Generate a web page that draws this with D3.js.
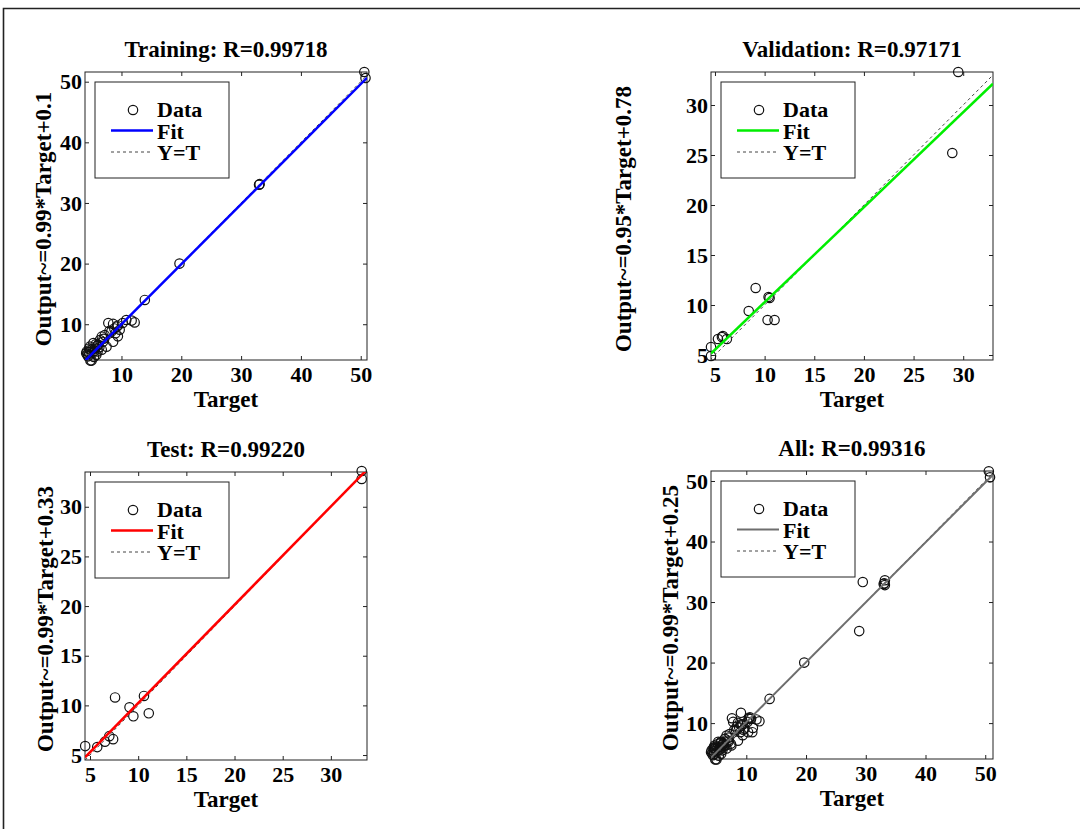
<!DOCTYPE html>
<html>
<head>
<meta charset="utf-8">
<script src="https://cdnjs.cloudflare.com/ajax/libs/d3/7.8.5/d3.min.js"></script>
<style>
body { margin: 0; background: #fff; }
text { font-family: "Liberation Serif", "Times New Roman", serif; font-weight: bold; fill: #000; }
</style>
</head>
<body>
<div id="chart"></div>
<script>
// values
const trainTarget = [50.6, 50.8, 33.0, 33.1, 19.7, 13.9, 11.7, 12.2, 10.8, 7.8, 8.6, 9.2, 9.7, 8.3, 8.6, 9.4, 7.2, 6.4, 6.1, 5.3,
    4.7, 5.55, 6.7, 4.2, 5.0, 4.1, 5.8, 4.4, 5.0, 7.5, 6.9, 9.0, 8.0, 5.5, 6.3, 4.8, 10.2, 9.4, 6.7, 4.8,
    4.3, 4.5, 5.2, 5.9, 6.0, 5.4, 7.0, 8.8, 4.6, 5.7]
const trainOutput = [51.6, 50.6, 33.0, 33.1, 20.0, 14.0, 10.6, 10.3, 10.7, 10.2, 10.05, 9.6, 9.1, 8.8, 7.1, 8.0, 8.2, 7.4, 6.6, 6.9,
    6.3, 6.0, 5.8, 5.5, 5.2, 5.2, 4.95, 4.7, 4.0, 6.3, 7.1, 8.5, 8.9, 5.6, 6.2, 5.8, 10.2, 9.8, 7.95, 4.0,
    5.0, 5.4, 5.9, 6.4, 5.5, 4.6, 7.6, 9.3, 6.0, 6.7]

const valTarget = [29.5, 28.9, 9.1, 10.4, 10.5, 8.4, 10.3, 11.0, 5.3, 5.8, 6.2, 5.7, 4.6, 4.6]
const valOutput = [33.3, 25.2, 11.7, 10.8, 10.7, 9.4, 8.5, 8.5, 6.6, 6.9, 6.6, 6.8, 5.8, 4.9]

const testTarget = [33.2, 33.2, 7.6, 10.6, 9.1, 9.5, 11.1, 7.0, 6.55, 7.4, 5.75, 4.5]
const testOutput = [33.6, 32.8, 10.8, 10.95, 9.8, 8.9, 9.2, 6.9, 6.35, 6.6, 5.8, 5.9]

const allTarget = trainTarget.concat(valTarget, testTarget)
const allOutput = trainOutput.concat(valOutput, testOutput)

const titles = ["Training: R=0.99718", "Validation: R=0.97171", "Test: R=0.99220", "All: R=0.99316"]
const yLabels = ["Output~=0.99*Target+0.1", "Output~=0.95*Target+0.78", "Output~=0.99*Target+0.33", "Output~=0.99*Target+0.25"]
const fitSlope = [0.99, 0.95, 0.99, 0.99]
const fitOffset = [0.1, 0.78, 0.33, 0.25]
const xLimits = [[3.9, 51.05], [4.6, 33.0], [4.48, 33.75], [4.09, 51.3]]
const yLimits = [[4.1, 51.6], [4.5, 33.3], [4.5, 33.5], [4.07, 51.65]]
const ticksBig = [10, 20, 30, 40, 50]
const ticksSmall = [5, 10, 15, 20, 25, 30]
const legendNames = ["Data", "Fit", "Y=T"]

const fitColors = ["#0000ff", "#00ee00", "#ff0000", "#6e6e6e"]

let svg = d3.select("#chart")
    .append("svg")
    .attr("width", 1080)
    .attr("height", 829)

svg.append("rect").attr("width", 1080).attr("height", 829).attr("fill", "#fff")

// outer frame (top + left only, rest is cropped)
svg.append("path")
    .attr("d", "M3.5,829 L3.5,8.5 L1080,8.5")
    .attr("fill", "none")
    .attr("stroke", "#222")
    .attr("stroke-width", 1.6)

let panels = [
    {left: 85, top: 72, tx: trainTarget, ty: trainOutput, ticks: ticksBig, ylabOff: 34},
    {left: 711, top: 72, tx: valTarget, ty: valOutput, ticks: ticksSmall, ylabOff: 80},
    {left: 85, top: 472, tx: testTarget, ty: testOutput, ticks: ticksSmall, ylabOff: 32},
    {left: 711, top: 471, tx: allTarget, ty: allOutput, ticks: ticksBig, ylabOff: 33}
]
let pw = 282, ph = 288

panels.forEach(function (p, i) {
    draw(p, i)
})

function draw(p, i) {
    let g = svg.append("g").attr("transform", "translate(" + p.left + "," + p.top + ")")

    let x = d3.scaleLinear().domain(xLimits[i]).range([0, pw])
    let y = d3.scaleLinear().domain(yLimits[i]).range([ph, 0])

    g.append("clipPath").attr("id", "clip" + i)
        .append("rect").attr("width", pw).attr("height", ph)

    // axes, ticks inside on all four sides
    let ax = [
        g.append("g").attr("transform", "translate(0," + ph + ")")
            .call(d3.axisBottom(x).tickValues(p.ticks).tickSizeInner(-4).tickSizeOuter(0).tickPadding(6)),
        g.append("g")
            .call(d3.axisLeft(y).tickValues(p.ticks).tickSizeInner(-4).tickSizeOuter(0).tickPadding(3)),
        g.append("g")
            .call(d3.axisTop(x).tickValues(p.ticks).tickSizeInner(-4).tickSizeOuter(0).tickFormat("")),
        g.append("g").attr("transform", "translate(" + pw + ",0)")
            .call(d3.axisRight(y).tickValues(p.ticks).tickSizeInner(-4).tickSizeOuter(0).tickFormat(""))
    ]
    ax.forEach(function (a) {
        a.select(".domain").remove()
        a.selectAll("line").attr("stroke", "#222")
        a.selectAll("text").style("font-size", "22px").style("font-family", null)
    })

    g.append("rect")
        .attr("width", pw).attr("height", ph)
        .attr("fill", "none").attr("stroke", "#222").attr("stroke-width", 1)

    let lineGen = d3.line()
        .x(function (d) { return x(d[0]) })
        .y(function (d) { return y(d[1]) })

    let lo = Math.min(xLimits[i][0], yLimits[i][0])
    let hi = Math.max(xLimits[i][1], yLimits[i][1])

    let pts = p.tx.map(function (t, k) { return [t, p.ty[k]] })

    g.selectAll("circle.pt")
        .data(pts)
        .enter()
        .append("circle")
        .attr("class", "pt")
        .attr("cx", function (d) { return x(d[0]) })
        .attr("cy", function (d) { return y(d[1]) })
        .attr("r", 4.7)
        .attr("fill", "none")
        .attr("stroke", "#111")
        .attr("stroke-width", 1.2)

    g.append("path")
        .attr("d", lineGen([[lo, lo], [hi, hi]]))
        .attr("clip-path", "url(#clip" + i + ")")
        .attr("stroke", "#444")
        .attr("stroke-width", 1)
        .attr("stroke-dasharray", "3,3")
        .attr("fill", "none")

    let x0 = xLimits[i][0], x1 = xLimits[i][1]
    g.append("path")
        .attr("d", lineGen([[x0, fitSlope[i] * x0 + fitOffset[i]], [x1, fitSlope[i] * x1 + fitOffset[i]]]))
        .attr("clip-path", "url(#clip" + i + ")")
        .attr("stroke", fitColors[i])
        .attr("stroke-width", i == 3 ? 2 : 2.5)
        .attr("fill", "none")

    // title and labels
    g.append("text")
        .attr("x", pw / 2)
        .attr("y", -15)
        .attr("text-anchor", "middle")
        .style("font-size", "23px")
        .text(titles[i])

    g.append("text")
        .attr("x", pw / 2)
        .attr("y", ph + 47)
        .attr("text-anchor", "middle")
        .style("font-size", "23px")
        .text("Target")

    g.append("text")
        .attr("transform", "translate(" + (-p.ylabOff) + "," + (ph / 2 + 3) + ") rotate(-90)")
        .attr("text-anchor", "middle")
        .style("font-size", "23px")
        .text(yLabels[i])

    // legend
    let lg = g.append("g").attr("transform", "translate(10,10)")
    lg.append("rect")
        .attr("width", 134).attr("height", 96)
        .attr("fill", "#fff").attr("stroke", "#222").attr("stroke-width", 1)
    lg.append("circle")
        .attr("cx", 38).attr("cy", 28).attr("r", 4.7)
        .attr("fill", "none").attr("stroke", "#111").attr("stroke-width", 1.2)
    lg.append("line")
        .attr("x1", 16).attr("x2", 58).attr("y1", 48.5).attr("y2", 48.5)
        .attr("stroke", fitColors[i]).attr("stroke-width", i == 3 ? 2 : 2.5)
    lg.append("line")
        .attr("x1", 16).attr("x2", 58).attr("y1", 70).attr("y2", 70)
        .attr("stroke", "#444").attr("stroke-width", 1).attr("stroke-dasharray", "3,3")
    legendNames.forEach(function (n, k) {
        lg.append("text")
            .attr("x", 62)
            .attr("y", 35 + k * 21.5)
            .style("font-size", "22px")
            .text(n)
    })
}
</script>
</body>
</html>
